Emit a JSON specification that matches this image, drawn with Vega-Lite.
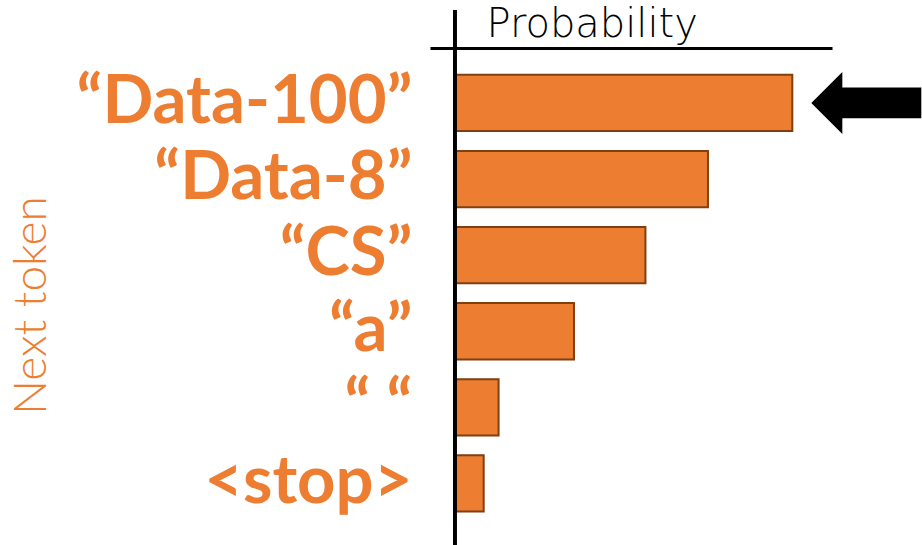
{
  "$schema": "https://vega.github.io/schema/vega-lite/v6.json",
  "autosize": "none",
  "width": 402,
  "height": 535,
  "padding": {"left": 430, "top": 10, "right": 90, "bottom": 0},
  "background": "white",
  "config": {"view": {"stroke": null}},
  "data": {
    "values": [
      {"token": "“Data-100”", "prob": 0.34, "chosen": true},
      {"token": "“Data-8”", "prob": 0.255, "chosen": false},
      {"token": "“CS”", "prob": 0.192, "chosen": false},
      {"token": "“a”", "prob": 0.12, "chosen": false},
      {"token": "“ “", "prob": 0.044, "chosen": false},
      {"token": "<stop>", "prob": 0.029, "chosen": false}
    ]
  },
  "layer": [
    {
      "mark": {"type": "bar", "color": "#ED7D31", "stroke": "#7F3F10", "strokeWidth": 2},
      "encoding": {
        "y": {
          "field": "token",
          "type": "nominal",
          "sort": null,
          "scale": {"paddingInner": 0.26, "paddingOuter": 0.645, "align": 0.66},
          "axis": {
            "orient": "left",
            "title": "Next token",
            "domain": false,
            "ticks": false,
            "grid": false,
            "labelFont": "Lato",
            "labelFontWeight": "bold",
            "labelFontSize": 67,
            "labelColor": "#ED7D31",
            "labelPadding": 18,
            "labelLimit": 0,
            "titleFont": "Lato",
            "titleFontWeight": 300,
            "titleFontSize": 46,
            "titleColor": "#ED7D31",
            "titleAngle": 270,
            "titleAlign": "center",
            "titleBaseline": "middle",
            "titleX": -399,
            "titleY": 295
          }
        },
        "x": {
          "field": "prob",
          "type": "quantitative",
          "scale": {"domain": [-0.0251, 0.38], "nice": false, "zero": false},
          "axis": {
            "orient": "top",
            "title": "Probability",
            "offset": -38,
            "labels": false,
            "ticks": false,
            "grid": false,
            "domainColor": "black",
            "domainWidth": 3,
            "titleFont": "DejaVu Sans",
            "titleFontWeight": 200,
            "titleFontSize": 40,
            "titleColor": "black",
            "titleAlign": "left",
            "titleBaseline": "alphabetic",
            "titleX": 56,
            "titleY": -12
          }
        }
      }
    },
    {
      "mark": {"type": "rule", "color": "black", "strokeWidth": 3},
      "encoding": {"x": {"datum": 0, "type": "quantitative"}}
    },
    {
      "transform": [{"filter": "datum.chosen"}],
      "mark": {
        "type": "point",
        "shape": "M -1 0 L -0.436 -0.564 L -0.436 -0.28 L 1 -0.28 L 1 0.28 L -0.436 0.28 L -0.436 0.564 Z",
        "filled": true,
        "color": "black",
        "opacity": 1,
        "size": 12100,
        "xOffset": 74
      },
      "encoding": {
        "x": {"field": "prob", "type": "quantitative"},
        "y": {"field": "token", "type": "nominal", "sort": null}
      }
    }
  ]
}
